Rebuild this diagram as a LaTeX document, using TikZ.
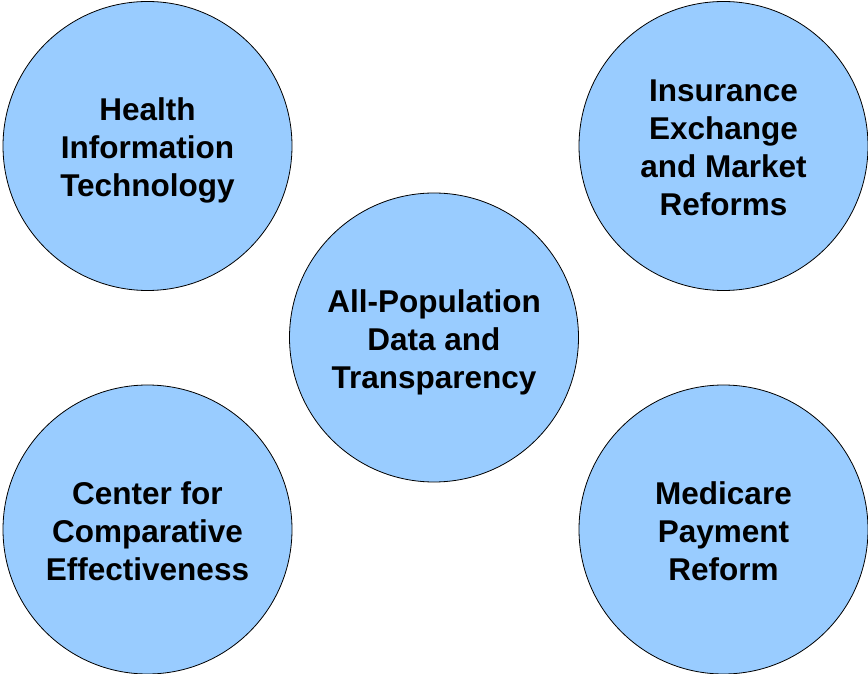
\documentclass[tikz,border=0pt]{standalone}
\usepackage{fontspec}
\setmainfont{Liberation Sans}
\usepackage{tikz}
\usetikzlibrary{positioning}

\definecolor{topicblue}{HTML}{99CCFF}
% struts so that every circle centres its lines alike
\newcommand{\topstrut}{\rule{0pt}{32pt}}
\newcommand{\botstrut}{\rule[-6.4pt]{0pt}{6.4pt}}

\begin{document}
\begin{tikzpicture}[
    x=1pt, y=1pt,
    topic/.style={circle, draw=black, line width=0.8pt, fill=topicblue, minimum size=289pt, inner sep=0pt, align=center, font=\fontsize{31.5}{38}\selectfont\bfseries}
]
    \useasboundingbox (0,0) rectangle (868,673);

    \node[topic] (hit) at (147.5,527) {\topstrut Health\\Information\\Technology\botstrut};
    \node[topic] (exchange) at (723.5,527) {\topstrut Insurance\\Exchange\\and Market\\Reforms\botstrut};
    \node[topic] (data) at (434,335.5) {\topstrut All-Population\\Data and\\Transparency\botstrut};
    \node[topic] (cce) at (147.5,143.5) {\topstrut Center for\\Comparative\\Effectiveness\botstrut};
    \node[topic] (medicare) at (723.5,143.5) {\topstrut Medicare\\Payment\\Reform\botstrut};
\end{tikzpicture}
\end{document}
